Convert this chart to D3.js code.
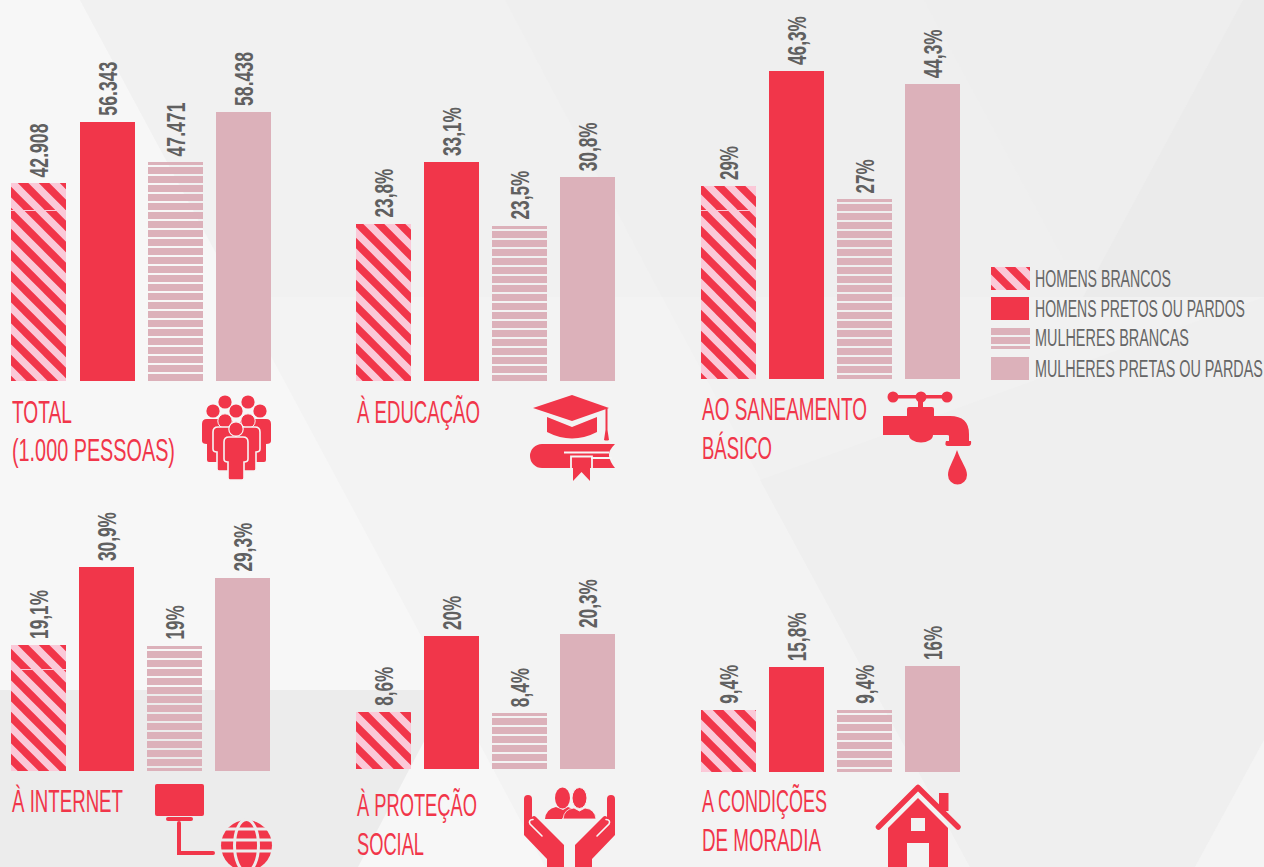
<!DOCTYPE html>
<html><head><meta charset="utf-8">
<script src="https://cdnjs.cloudflare.com/ajax/libs/d3/7.8.5/d3.min.js"></script>
<style>html,body{margin:0;padding:0;background:#f7f7f7;overflow:hidden}svg{display:block}</style>
</head><body><svg id="c" width="1264" height="867"></svg>
<script>
const seriesNames = ["HOMENS BRANCOS","HOMENS PRETOS OU PARDOS","MULHERES BRANCAS","MULHERES PRETAS OU PARDAS"];
const totalValues = [42908,56343,47471,58438];
const educacaoValues = [23.8,33.1,23.5,30.8];
const saneamentoValues = [29,46.3,27,44.3];
const internetValues = [19.1,30.9,19,29.3];
const protecaoValues = [8.6,20,8.4,20.3];
const moradiaValues = [9.4,15.8,9.4,16];
const totalLabels = ["42.908","56.343","47.471","58.438"];
const educacaoLabels = ["23,8%","33,1%","23,5%","30,8%"];
const saneamentoLabels = ["29%","46,3%","27%","44,3%"];
const internetLabels = ["19,1%","30,9%","19%","29,3%"];
const protecaoLabels = ["8,6%","20%","8,4%","20,3%"];
const moradiaLabels = ["9,4%","15,8%","9,4%","16%"];

const RED="#f1364a", PINK="#dcb1ba", LIGHT="#fbc9d8", BG="#f6f6f6";
const FONT="'Liberation Sans Narrow','Liberation Sans',sans-serif";
const panels=[
 {v:totalValues,l:totalLabels,x:11.4,w:260,b:381,t:112,seam:210,title:[["TOTAL",12,423,60],["(1.000 PESSOAS)",12,461,163]]},
 {v:educacaoValues,l:educacaoLabels,x:356,w:259,b:381,t:162,title:[["À EDUCAÇÃO",357,423,123]]},
 {v:saneamentoValues,l:saneamentoLabels,x:701,w:259,b:379,t:71,seam:210,title:[["AO SANEAMENTO",702,420,165],["BÁSICO",702,459,70]]},
 {v:internetValues,l:internetLabels,x:11,w:259,b:771,t:567,seam:669,title:[["À INTERNET",12,812,111]]},
 {v:protecaoValues,l:protecaoLabels,x:356,w:259,b:769,t:634,title:[["À PROTEÇÃO",357,816,120],["SOCIAL",357,855,67]]},
 {v:moradiaValues,l:moradiaLabels,x:701,w:259,b:772,t:666,title:[["A CONDIÇÕES",702,812,125],["DE MORADIA",702,851,119]]}
];
const svg=d3.select("#c");
const defs=svg.append("defs");
const hat=defs.append("pattern").attr("id","hatch").attr("patternUnits","userSpaceOnUse").attr("width",21).attr("height",21);
hat.append("rect").attr("width",21).attr("height",21).attr("fill",LIGHT);
hat.append("path").attr("d","M-22,-30L38,30M-1,-30L59,30M-43,-30L17,30").attr("stroke",RED).attr("stroke-width",7.6).attr("fill","none");
const linePattern=(id,off)=>{
 const ln=defs.append("pattern").attr("id",id).attr("patternUnits","userSpaceOnUse").attr("width",10).attr("height",9)
  .attr("patternTransform",`translate(0,${off})`);
 ln.append("rect").attr("width",10).attr("height",7).attr("fill",PINK);
};
linePattern("lines",328);

// background
const bg=svg.append("g");
const poly=(pts,c)=>bg.append("polygon").attr("points",pts).attr("fill",c);
poly("0,0 1264,0 1264,867 0,867","#f7f7f7");
poly("80,0 1264,0 1264,867 545,867","#f3f3f3");
poly("80,0 1264,0 1264,297 240,297","#f1f1f1");
poly("505,0 1264,0 1264,297 662,297","#efefef");
poly("662,297 1264,297 1264,867 970,867","#f1f1f1");
poly("1264,297 1264,740 1195,867 970,867 760,480","#efefef");
poly("924,0 1243,0 1103,260 1064,260","#eeeeee");
poly("1243,0 1264,0 1264,297 1083,297","#ebebeb");
poly("451,690 545,867 358,867","#f7f7f7");
poly("0,690 451,690 358,867 0,867","#ececec");
poly("1195,867 1264,740 1264,867","#f4f4f4");

// text whose natural width is squeezed to the reference's condensed width
const fit=(sel,tw,x,y,rot)=>{
 const n=sel.node().getComputedTextLength();
 sel.attr("transform",`translate(${x},${y})${rot?` rotate(${rot})`:""} scale(${tw/n},1)`);
};

panels.forEach((p,pi)=>{
 const x=d3.scaleBand().domain(d3.range(p.v.length)).range([p.x,p.x+p.w]).paddingInner(0.19);
 const y=d3.scaleLinear().domain([0,d3.max(p.v)]).range([p.b,p.t]);
 const g=svg.append("g");
 const top=d=>Math.round(y(d));
 p.v.forEach((d,i)=>{ if(i===2) linePattern("lines"+pi,top(d)+5); });
 const pf=["url(#hatch)",RED,`url(#lines${pi})`,PINK];
 g.selectAll("rect.bar").data(p.v).join("rect").attr("class","bar")
  .attr("x",(d,i)=>Math.round(x(i))).attr("width",Math.round(x.bandwidth()))
  .attr("y",top).attr("height",d=>p.b-top(d))
  .attr("fill",(d,i)=>pf[i]);
 // thin sliver at the top of the lined bar
 const ti=2;
 g.append("rect").attr("x",Math.round(x(ti))).attr("y",top(p.v[ti])).attr("width",Math.round(x.bandwidth())).attr("height",3).attr("fill",PINK);
 if(p.seam) g.append("rect").attr("x",Math.round(x(0))).attr("y",p.seam).attr("width",Math.round(x.bandwidth())).attr("height",1).attr("fill",LIGHT);
 const lw=s=>[...s].reduce((a,c)=>a+(c==="%"?14.5:(c==="."||c===",")?5:9.8),0);
 p.v.forEach((d,i)=>{
  const t=g.append("text").text(p.l[i]).attr("font-family",FONT).attr("font-weight",700)
   .attr("font-size",26).attr("fill","#606060");
  fit(t,lw(p.l[i]),x(i)+x.bandwidth()/2+9.3,y(d)-6,-90);
 });
 p.title.forEach(tt=>{
  const t=svg.append("text").text(tt[0]).attr("font-family",FONT).attr("font-size",32).attr("fill",RED);
  fit(t,tt[3],tt[1],tt[2]);
 });
});

// legend
const lgY=[267,297,326,357], lgT=[136,210,154,228];
const lgFills=["url(#hatch)",RED,"url(#lines)",PINK];
seriesNames.forEach((n,i)=>{
 svg.append("rect").attr("x",991).attr("y",lgY[i]).attr("width",i%2?38:39).attr("height",23).attr("fill",lgFills[i]);
 const t=svg.append("text").text(n).attr("font-family",FONT).attr("font-size",23).attr("fill","#666");
 fit(t,lgT[i],1035,lgY[i]+20);
});

// icons
const ic=svg.append("g").attr("fill",RED);
// people
[[225,402],[248,402],[213,411],[236,411],[260,411]].forEach(c=>ic.append("circle").attr("cx",c[0]).attr("cy",c[1]).attr("r",6.6));
const body=(x0,x1,y0,y1,leg)=>`M${x0+5},${y0}H${x1-5}Q${x1},${y0} ${x1},${y0+5}V${y0+22}Q${x1},${y0+25} ${x1-leg},${y0+25}V${y1-2}Q${x1-leg},${y1} ${x1-leg-2},${y1}H${x0+leg+2}Q${x0+leg},${y1} ${x0+leg},${y1-2}V${y0+25}Q${x0},${y0+25} ${x0},${y0+22}V${y0+5}Q${x0},${y0} ${x0+5},${y0}Z`;
ic.append("path").attr("d",body(202,233,419,462,5));
ic.append("path").attr("d",body(240,271,419,462,5));
const st=(d)=>ic.append("path").attr("d",d).attr("stroke",BG).attr("stroke-width",1.6);
[[225,421],[248,421]].forEach(c=>ic.append("circle").attr("cx",c[0]).attr("cy",c[1]).attr("r",7.2).attr("stroke",BG).attr("stroke-width",1));
st(body(213,236,427,471,4)); st(body(236,260,427,471,4));
ic.append("circle").attr("cx",236).attr("cy",429).attr("r",7.2).attr("stroke",BG).attr("stroke-width",1.2);
st(body(224,248,437,480,4));
// graduation cap & book
ic.append("path").attr("d","M533,408L572,395L609,408L572,421Z");
ic.append("path").attr("d","M547,417L572,427L597,417V432Q572,445 547,432Z");
ic.append("path").attr("d","M605.5,408H607.5V430L609,440Q606.5,441 604,440L605.5,430Z");
ic.append("path").attr("d","M542,444H615Q608,451 609,456Q610,462 615,468H542A12,12 0 0 1 542,444Z");
ic.append("path").attr("d","M564,452.5H609M591,458H612M571,470V456.5H592V470").attr("stroke",BG).attr("stroke-width",1.8).attr("fill","none");
ic.append("path").attr("d","M573,458H590V481L581.5,472L573,481Z");
// faucet
[[893,397],[921,397],[947,397]].forEach(c=>ic.append("circle").attr("cx",c[0]).attr("cy",c[1]).attr("r",5.5));
ic.append("rect").attr("x",893).attr("y",395).attr("width",54).attr("height",3.5);
ic.append("rect").attr("x",918).attr("y",397).attr("width",5).attr("height",11);
ic.append("path").attr("d","M883,416H907V409Q907,407 909,407H932Q934,407 934,409V416H950Q969,416 969,434V441H971Q972,446 968,446H948Q944,446 946,441H949V436Q949,435 947,435H933A12,7.5 0 0 1 909,435H883Z");
ic.append("path").attr("d","M957,450C961,462 967,468 967,475A9.5,9.5 0 0 1 948,475C948,468 953,462 957,450Z");
// monitor & globe
ic.append("rect").attr("x",155).attr("y",784).attr("width",49).attr("height",32).attr("rx",2);
ic.append("rect").attr("x",166).attr("y",817).attr("width",27).attr("height",4).attr("rx",2);
ic.append("path").attr("d","M179,823V853H213").attr("fill","none").attr("stroke",RED).attr("stroke-width",4).attr("stroke-linecap","round");
ic.append("circle").attr("cx",246.5).attr("cy",845.5).attr("r",25.5);
const gl=svg.append("g").attr("fill","none").attr("stroke","#ececec").attr("stroke-width",3);
gl.append("path").attr("d","M220,840H273M220,851H273M225,829H268");
gl.append("ellipse").attr("cx",246.5).attr("cy",845.5).attr("rx",12).attr("ry",26);
// hands & people
[[562.5,798],[579.5,798]].forEach(c=>ic.append("ellipse").attr("cx",c[0]).attr("cy",c[1]).attr("rx",7.5).attr("ry",10.5).attr("stroke",BG).attr("stroke-width",c[0]>570?1:0));
ic.append("path").attr("d","M545,819Q546,809 556,807L563,810L568,807Q572,808 574,811Q566,813 562,819Z");
ic.append("path").attr("d","M563,819Q564,809 574,808L579.5,811L585,808Q595,809 596,819Z").attr("stroke",BG).attr("stroke-width",.8);
[0,1].forEach(m=>{
 const h=ic.append("g").attr("transform",m?"translate(1139,0) scale(-1,1)":null);
 h.append("path").attr("d","M524,799A4,4 0 0 1 532,799V817Q534,815 536,817L564,845V867H547V859L524,835Z");
 h.append("path").attr("d","M542,836L530,824Q528,820 533,819.5").attr("stroke",BG).attr("stroke-width",1.6).attr("stroke-linecap","round").attr("fill","none");
});
// house
ic.append("rect").attr("x",939).attr("y",793).attr("width",9.5).attr("height",18);
ic.append("path").attr("d","M878.5,827L918,787.5L958,827").attr("fill","none").attr("stroke",RED).attr("stroke-width",5.5).attr("stroke-linecap","round").attr("stroke-linejoin","round");
ic.append("path").attr("d","M918,798L948,828V867H929V843H907V867H888V828Z");
svg.append("rect").attr("x",911).attr("y",818).attr("width",14).attr("height",13).attr("fill","#f2f2f2");
</script></body></html>
